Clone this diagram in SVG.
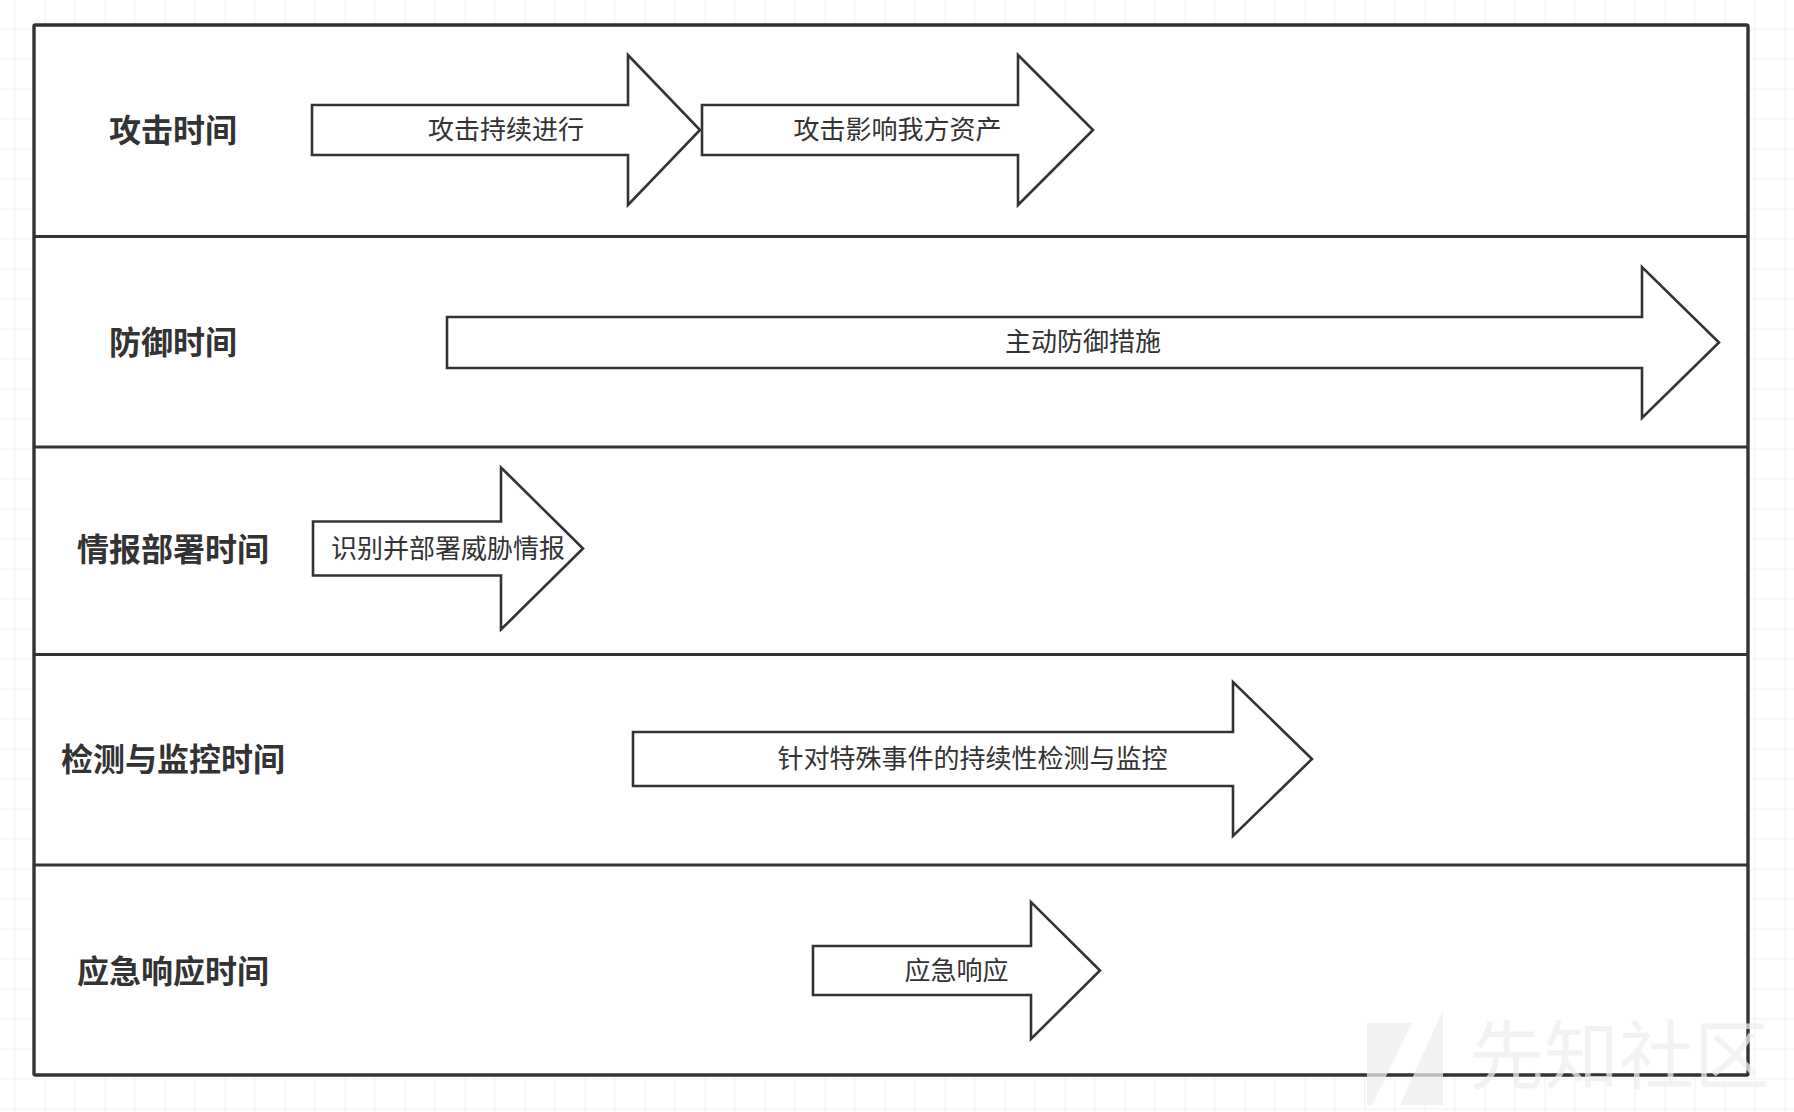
<svg xmlns="http://www.w3.org/2000/svg" width="1794" height="1112" viewBox="0 0 1794 1112">
  <style>
    .title { font-family: "Noto Sans CJK SC", "Noto Sans", sans-serif; font-size: 32px; font-weight: bold; fill: #333333; text-anchor: middle; dominant-baseline: central; }
    .label { font-family: "Noto Sans CJK SC", "Noto Sans", sans-serif; font-size: 26px; fill: #333333; text-anchor: middle; dominant-baseline: central; }
    .arrow { fill: #ffffff; stroke: #333333; stroke-width: 2.6; stroke-linejoin: miter; }
    .divider { stroke: #333333; stroke-width: 3.2; fill: none; }
    .wm { font-family: "Noto Sans CJK SC", sans-serif; font-size: 75px; fill: #eeeeee; fill-opacity: 0.75; }
    .wmlogo { fill: #eeeeee; fill-opacity: 0.75; }
  </style>
  <defs>
    <pattern id="grid" patternUnits="userSpaceOnUse" x="14.5" y="28.5" width="30" height="30">
      <path d="M0 0 H30 M0 0 V30" stroke="#ebebeb" stroke-width="1.5" fill="none"/>
    </pattern>
  </defs>
  <rect x="0" y="0" width="1794" height="1112" fill="#ffffff"/>
  <rect x="0" y="0" width="1794" height="1112" fill="url(#grid)"/>

  <g id="frame">
    <rect x="34" y="25" width="1714" height="1050" fill="#ffffff" stroke="#333333" stroke-width="3.4" rx="1.5"/>
  </g>

  <g id="dividers">
    <line class="divider" x1="34" y1="236.5" x2="1748" y2="236.5"/>
    <line class="divider" x1="34" y1="447" x2="1748" y2="447"/>
    <line class="divider" x1="34" y1="654.5" x2="1748" y2="654.5"/>
    <line class="divider" x1="34" y1="865" x2="1748" y2="865"/>
  </g>

  <g id="row-attack">
    <text class="title" x="173" y="127.5">攻击时间</text>
  </g>
  <g id="row-defense">
    <text class="title" x="173" y="339.5">防御时间</text>
  </g>
  <g id="row-intel">
    <text class="title" x="173" y="546.5">情报部署时间</text>
  </g>
  <g id="row-detect">
    <text class="title" x="173" y="756.5">检测与监控时间</text>
  </g>
  <g id="row-response">
    <text class="title" x="173" y="968.5">应急响应时间</text>
  </g>

  <g id="connectors">
    <g id="arrow-attack-ongoing">
      <polygon class="arrow" points="312,105 628,105 628,55 700,130 628,205 628,155 312,155"/>
      <text class="label" x="506" y="127.5">攻击持续进行</text>
    </g>
    <g id="arrow-attack-impact">
      <polygon class="arrow" points="702,105 1018,105 1018,55 1093,130 1018,205 1018,155 702,155"/>
      <text class="label" x="897.5" y="127.5">攻击影响我方资产</text>
    </g>
    <g id="arrow-active-defense">
      <polygon class="arrow" points="447,317 1642,317 1642,267 1719,342.5 1642,418 1642,368 447,368"/>
      <text class="label" x="1083" y="339.5">主动防御措施</text>
    </g>
    <g id="arrow-intel">
      <polygon class="arrow" points="313,521.5 501,521.5 501,467.5 583,548.5 501,629.5 501,575.5 313,575.5"/>
      <text class="label" x="448" y="546">识别并部署威胁情报</text>
    </g>
    <g id="arrow-detect">
      <polygon class="arrow" points="633,732 1233,732 1233,682 1312,759 1233,836 1233,786 633,786"/>
      <text class="label" x="972.5" y="756.5">针对特殊事件的持续性检测与监控</text>
    </g>
    <g id="arrow-response">
      <polygon class="arrow" points="813,946 1031,946 1031,902 1100,970.5 1031,1039 1031,995 813,995"/>
      <text class="label" x="956.5" y="968">应急响应</text>
    </g>
  </g>

  <g id="watermark">
    <polygon class="wmlogo" points="1367,1023 1412,1023 1372,1105 1367,1105"/>
    <polygon class="wmlogo" points="1443,1010 1443,1105 1400,1105"/>
    <text class="wm" x="1469" y="1083">先知社区</text>
  </g>
</svg>
